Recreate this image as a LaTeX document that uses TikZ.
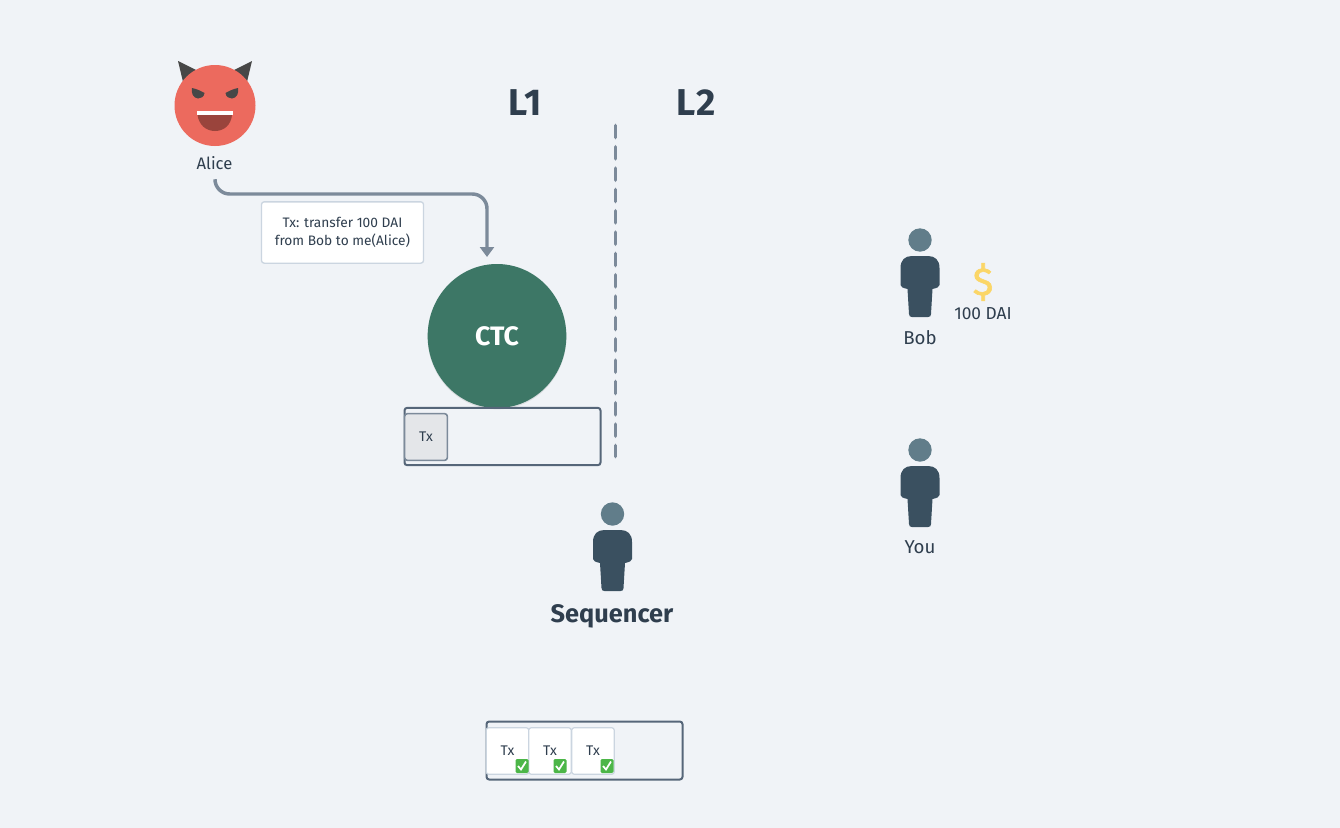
\documentclass[tikz,border=0pt]{standalone}
\usepackage{fontspec}
\setmainfont{Fira Sans}
\usetikzlibrary{arrows.meta,shadows,shapes.geometric}
\definecolor{bg}{HTML}{F0F3F7}
\definecolor{ink}{HTML}{2F3E4E}
\definecolor{slate}{HTML}{566679}
\definecolor{conn}{HTML}{7C8A9A}
\definecolor{ctcgreen}{HTML}{3D7766}
\definecolor{head}{HTML}{617D8A}
\definecolor{torso}{HTML}{3A5060}
\definecolor{devil}{HTML}{EC6A5E}
\definecolor{horn}{HTML}{474747}
\definecolor{mouth}{HTML}{9A443C}
\definecolor{boxedge}{HTML}{CBD5E0}
\definecolor{gold}{HTML}{FBD667}
\definecolor{okgreen}{HTML}{4CB648}
\definecolor{txgrey}{HTML}{E4E6E9}
\tikzset{
  x=0.75pt,y=-0.75pt,
  lbl/.style={text=ink,font=\fontsize{12.5}{14}\selectfont,inner sep=0pt,align=center},
  bigtitle/.style={text=ink,font=\bfseries\fontsize{28}{30}\selectfont\addfontfeature{LetterSpace=4},inner sep=0pt},
  queue/.style={draw=slate,line width=1.5pt,rounded corners=2pt,fill=none},
  txwhite/.style={draw=boxedge,line width=0.9pt,rounded corners=2pt,fill=white,minimum width=32pt,minimum height=35pt,inner sep=0pt,font=\fontsize{10.5}{12}\selectfont,text=ink},
  person/.pic={
    \fill[head] (0,-16) circle (11.7);
    \fill[torso] (-8,0) .. controls (-15,0) and (-19.5,4) .. (-19.5,12) -- (-19.5,29)
      .. controls (-19.5,31) and (-17,32) .. (-12.5,33) -- (-11,58) .. controls (-11,60) and (-10,61) .. (-8,61)
      -- (8,61) .. controls (10,61) and (11,60) .. (11,58) -- (12.5,33)
      .. controls (17,32) and (19.5,31) .. (19.5,29) -- (19.5,12)
      .. controls (19.5,4) and (15,0) .. (8,0) -- cycle;
  },
  tick/.pic={
    \fill[okgreen,rounded corners=1pt] (-6.5,-7) rectangle (6.5,7);
    \draw[white,line width=1.3pt] (-4,0) -- (-1,3.5) -- (4,-4.5);
  }
}
\begin{document}
\begin{tikzpicture}
\useasboundingbox[fill=bg] (0,0) rectangle (1340,828);
% Alice
\fill[horn] (178,61) -- (198,71) -- (184,86) -- cycle;
\fill[horn] (252,61) -- (232,71) -- (246,86) -- cycle;
\fill[devil] (215,105.5) circle (40.5);
\fill[horn] (192,88) .. controls (197,89) and (201,91) .. (204.5,93) .. controls (204,97) and (201,98.5) .. (198,98.5) .. controls (193,98) and (191,93) .. (192,88) -- cycle;
\fill[horn] (238,88) .. controls (233,89) and (229,91) .. (225.5,93) .. controls (226,97) and (229,98.5) .. (232,98.5) .. controls (237,98) and (239,93) .. (238,88) -- cycle;
\fill[mouth] (197.5,115) -- (232,115) .. controls (231,125) and (224,131) .. (215,131) .. controls (206,131) and (199,125) .. (197.5,115) -- cycle;
\fill[white] (197,111) rectangle (232.5,115);
\node[lbl] (alice) at (214.5,163.5) {Alice};
% Titles
\node[bigtitle] (l1) at (525.5,103) {L1};
\node[bigtitle] (l2) at (696,103) {L2};
% Divider
\coordinate (divtop) at (615.5,125.5);
\coordinate (divbot) at (615.5,456.5);
\draw[conn,line width=2.8pt,line cap=round,dash pattern=on 9pt off 7pt] (divtop) -- (divbot);
% CTC
\node[ellipse,fill=ctcgreen,minimum width=104pt,minimum height=108pt,inner sep=0pt,text=white,font=\bfseries\fontsize{20}{22}\selectfont,
  drop shadow={opacity=0.18,shadow xshift=0pt,shadow yshift=-1pt}] (ctc) at (497,336) {CTC};
% Connector
\coordinate (alicedrop) at (215,182);
\coordinate (arrowend) at (487,257);
\draw[conn,line width=2.6pt,rounded corners=11pt,-{Triangle[length=7.5pt,width=10.5pt]}] (alicedrop) -- (215,194) -- (487,194) -- (arrowend);
% Tx box
\node[draw=boxedge,line width=1pt,rounded corners=2pt,fill=white,minimum width=121.5pt,minimum height=46pt,inner sep=0pt,
  text=ink,align=center,font=\fontsize{10.3}{14}\selectfont] (txnote) at (342.5,232.5) {Tx: transfer 100 DAI\\from Bob to me(Alice)};
% L1 queue
\node[queue,minimum width=147pt,minimum height=43pt,inner sep=0pt] (q1) at (502.5,436.5) {};
\node[draw=conn,fill=txgrey,line width=1.2pt,rounded corners=2pt,minimum width=32pt,minimum height=35pt,inner sep=0pt,font=\fontsize{10.5}{12}\selectfont,text=ink] (tx1) at (426,437) {Tx};
% Sequencer
\pic at (612.5,530) {person};
\node[text=ink,font=\bfseries\fontsize{19}{21}\selectfont,inner sep=0pt] (seq) at (612,616) {Sequencer};
% Bob
\pic at (920,256) {person};
\node[lbl,font=\fontsize{14}{16}\selectfont] (bob) at (920,337.5) {Bob};
\node[text=gold,inner sep=0pt,font=\fontsize{29}{30}\selectfont\addfontfeature{FakeBold=1.5}] (dollar) at (983,282) {\$};
\node[lbl,font=\fontsize{13}{15}\selectfont] (dai) at (983,313.5) {100 DAI};
% You
\pic at (920,466) {person};
\node[lbl,font=\fontsize{14}{16}\selectfont] (you) at (920,547) {You};
% L2 queue
\node[queue,minimum width=147pt,minimum height=43.5pt,inner sep=0pt] (q2) at (584.5,750.5) {};
\node[txwhite] (a) at (507.5,751) {Tx};
\node[txwhite] (b) at (550,751) {Tx};
\node[txwhite] (c) at (593,751) {Tx};
\pic at (522,766) {tick};
\pic at (560,766) {tick};
\pic at (607,766) {tick};
\end{tikzpicture}
\end{document}
